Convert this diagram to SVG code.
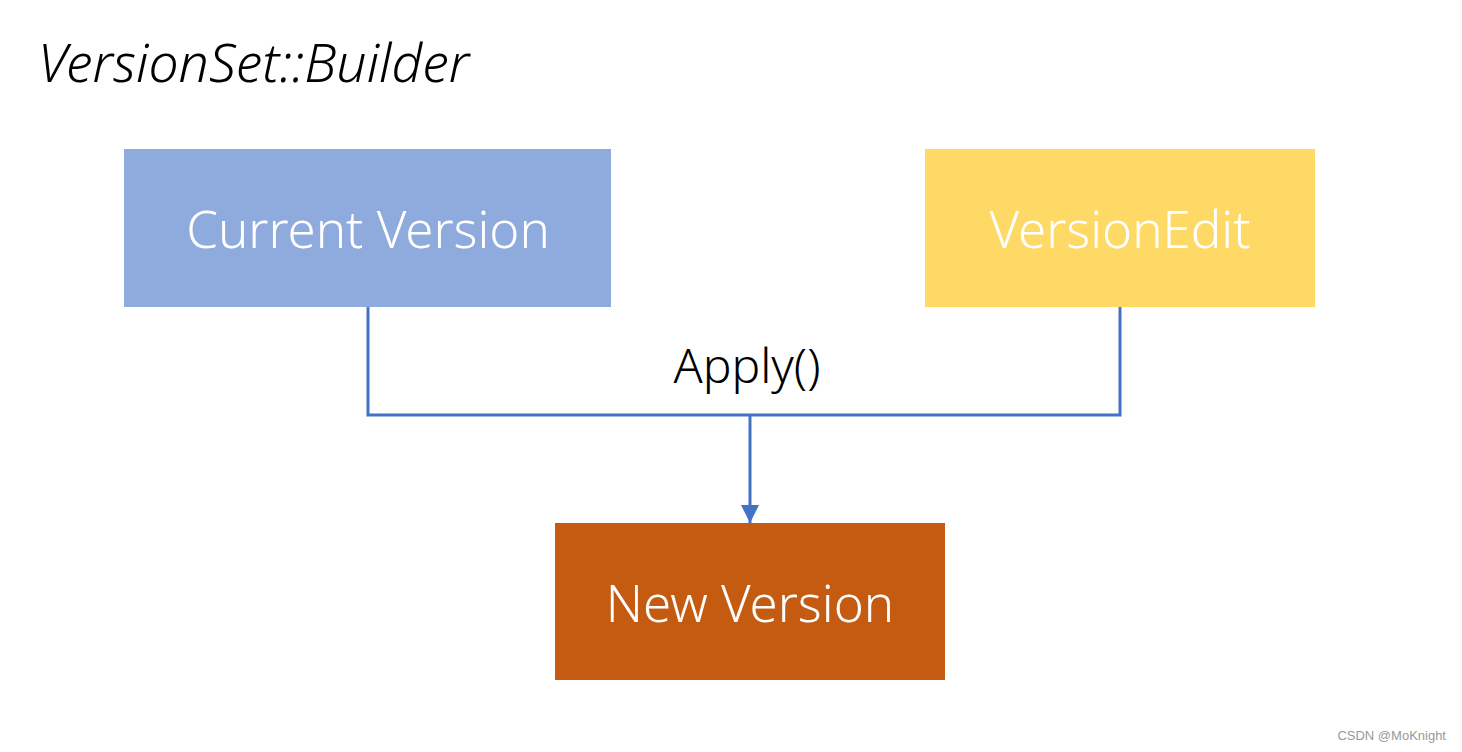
<svg xmlns="http://www.w3.org/2000/svg" width="1462" height="752" viewBox="0 0 1462 752">
<style>
.lbl{font-family:"Noto Sans","Open Sans",sans-serif;font-weight:300;fill:#fff;text-anchor:middle}
.conn{fill:none;stroke:#4472C4;stroke-width:3}
</style>
<defs>
<marker id="arr" markerWidth="6" markerHeight="6" refX="6" refY="3" orient="auto" markerUnits="strokeWidth">
<path d="M0,0 L6,3 L0,6 Z" fill="#4472C4"/>
</marker>
</defs>
<rect width="1462" height="752" fill="#fff"/>
<text x="38" y="82" font-family="Noto Sans,sans-serif" font-style="italic" font-weight="300" font-size="53.5" fill="#000">VersionSet::Builder</text>
<g id="current">
<rect x="124" y="149" width="487" height="158" fill="#8FAADC"/>
<text class="lbl" x="368" y="248" font-size="51">Current Version</text>
</g>
<g id="versionedit">
<rect x="925" y="149" width="390" height="158" fill="#FFD966"/>
<text class="lbl" x="1120" y="248" font-size="51">VersionEdit</text>
</g>
<g id="newversion">
<rect x="555" y="523" width="390" height="157" fill="#C55A11"/>
<text class="lbl" x="750" y="622" font-size="51">New Version</text>
</g>
<g id="connectors">
<polyline class="conn" points="368,307 368,415 1120,415 1120,307"/>
<line class="conn" x1="750" y1="415" x2="750" y2="523" marker-end="url(#arr)"/>
<text x="747" y="383" font-family="Noto Sans,sans-serif" font-weight="300" font-size="48" fill="#000" text-anchor="middle">Apply()</text>
</g>
<text x="1446" y="740" font-family="Liberation Sans,sans-serif" font-size="13" fill="#999" text-anchor="end">CSDN @MoKnight</text>
</svg>
